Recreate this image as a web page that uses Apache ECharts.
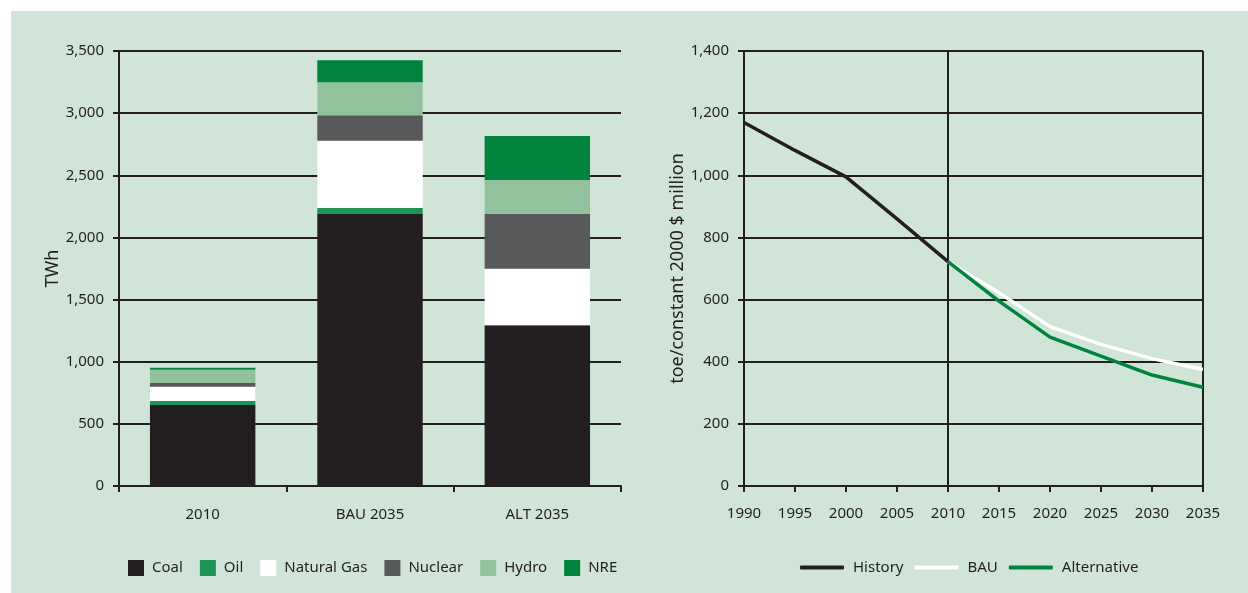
<!DOCTYPE html>
<html>
<head>
<meta charset="utf-8">
<script src="https://cdn.jsdelivr.net/npm/echarts@6/dist/echarts.min.js"></script>
<style>
html,body{margin:0;padding:0;background:#ffffff;}
#bg{position:absolute;left:11px;top:11px;width:1237px;height:582px;background:#d0e5d7;}
#chart{position:absolute;left:0;top:0;width:1248px;height:593px;}
</style>
</head>
<body>
<div id="bg"></div>
<div id="chart"></div>
<script>
// ---- Left chart data (TWh) ----
const barCategories = ['2010', 'BAU 2035', 'ALT 2035'];
const coal = [652, 2188, 1290];
const oil = [32, 48, 6];
const naturalGas = [115, 541, 451];
const nuclear = [30, 207, 442];
const hydro = [107, 265, 274];
const nre = [16, 177, 354];
const twhTicks = { min: 0, max: 3500, interval: 500 };

// ---- Right chart data (toe/constant 2000 $ million) ----
const years = ['1990', '1995', '2000', '2005', '2010', '2015', '2020', '2025', '2030', '2035'];
const history = [1170, 1080, 995, 860, 722, null, null, null, null, null];
const bau = [null, null, null, null, 722, 622, 513, 456, 410, 375];
const alternative = [null, null, null, null, 722, 595, 479, 418, 357, 318];
const intensityTicks = { min: 0, max: 1400, interval: 200 };

const txt = '#231f20';
const font = 'Noto Sans';
const fmt = v => Number(v).toLocaleString('en-US');

const barColors = {
  Coal: '#231f20', Oil: '#1e9457', 'Natural Gas': '#ffffff',
  Nuclear: '#58595b', Hydro: '#91c19d', NRE: '#00843d'
};
const barSeriesData = [
  ['Coal', coal], ['Oil', oil], ['Natural Gas', naturalGas],
  ['Nuclear', nuclear], ['Hydro', hydro], ['NRE', nre]
];

const chart = echarts.init(document.getElementById('chart'), null, { renderer: 'canvas' });

const axisLineStyle = { color: '#231f20', width: 2 };

const option = {
  backgroundColor: 'transparent',
  animation: false,
  textStyle: { fontFamily: font, color: txt },
  grid: [
    { left: 119, top: 51, width: 502, height: 435 },
    { left: 744, top: 51, width: 459, height: 435 }
  ],
  legend: [
    {
      data: barSeriesData.map(d => d[0]),
      left: 123, top: 555,
      itemWidth: 16, itemHeight: 16, itemGap: 17,
      icon: 'rect',
      textStyle: { fontFamily: font, fontSize: 15, color: txt, padding: [0, 0, 0, 3] }
    },
    {
      data: ['History', 'BAU', 'Alternative'],
      left: 795, top: 555,
      itemWidth: 44, itemHeight: 4, itemGap: 11,
      icon: 'roundRect',
      textStyle: { fontFamily: font, fontSize: 15, color: txt, padding: [0, 0, 0, 4] }
    }
  ],
  xAxis: [
    {
      gridIndex: 0, type: 'category', data: barCategories,
      axisLine: { lineStyle: axisLineStyle },
      axisTick: { show: true, length: 6, lineStyle: axisLineStyle },
      axisLabel: { color: txt, fontFamily: font, fontSize: 15, margin: 21 },
      splitLine: { show: false }
    },
    {
      gridIndex: 1, type: 'category', data: years, boundaryGap: false,
      axisLine: { lineStyle: axisLineStyle },
      axisTick: { show: true, length: 6, interval: 0, lineStyle: axisLineStyle },
      axisLabel: { color: txt, fontFamily: font, fontSize: 15, margin: 20, interval: 0 },
      splitLine: {
        show: true,
        interval: (idx) => idx === 4 || idx === 9,
        lineStyle: axisLineStyle
      }
    }
  ],
  yAxis: [
    {
      gridIndex: 0, type: 'value',
      min: twhTicks.min, max: twhTicks.max, interval: twhTicks.interval,
      name: 'TWh', nameLocation: 'middle', nameGap: 57, nameRotate: 90,
      nameTextStyle: { fontFamily: font, fontSize: 18, color: txt },
      axisLine: { show: true, lineStyle: axisLineStyle },
      axisTick: { show: true, length: 6, lineStyle: axisLineStyle },
      axisLabel: { color: txt, fontFamily: font, fontSize: 15, margin: 15, formatter: fmt },
      splitLine: { show: true, lineStyle: axisLineStyle }
    },
    {
      gridIndex: 1, type: 'value',
      min: intensityTicks.min, max: intensityTicks.max, interval: intensityTicks.interval,
      name: 'toe/constant 2000 $ million', nameLocation: 'middle', nameGap: 47, nameRotate: 90,
      nameTextStyle: { fontFamily: font, fontSize: 18, color: txt },
      axisLine: { show: true, lineStyle: axisLineStyle },
      axisTick: { show: true, length: 6, lineStyle: axisLineStyle },
      axisLabel: { color: txt, fontFamily: font, fontSize: 15, margin: 15, formatter: fmt },
      splitLine: { show: true, lineStyle: axisLineStyle }
    }
  ],
  series: [
    ...barSeriesData.map(([name, vals]) => ({
      name, type: 'bar', stack: 'power', xAxisIndex: 0, yAxisIndex: 0,
      data: vals, barCategoryGap: '37%',
      itemStyle: { color: barColors[name] }
    })),
    {
      name: 'History', type: 'line', xAxisIndex: 1, yAxisIndex: 1, data: history,
      symbol: 'none', lineStyle: { color: '#231f20', width: 3.5 }, itemStyle: { color: '#231f20' }
    },
    {
      name: 'BAU', type: 'line', xAxisIndex: 1, yAxisIndex: 1, data: bau,
      symbol: 'none', lineStyle: { color: '#ffffff', width: 3.5 }, itemStyle: { color: '#ffffff' }
    },
    {
      name: 'Alternative', type: 'line', xAxisIndex: 1, yAxisIndex: 1, data: alternative,
      symbol: 'none', lineStyle: { color: '#00843d', width: 3.5 }, itemStyle: { color: '#00843d' }
    }
  ]
};
chart.setOption(option);
</script>
</body>
</html>
